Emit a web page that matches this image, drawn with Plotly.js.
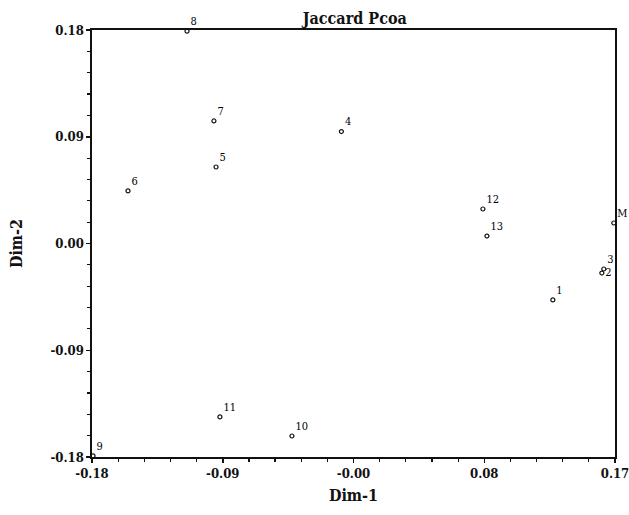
<!DOCTYPE html>
<html>
<head>
<meta charset="utf-8">
<script src="https://cdn.plot.ly/plotly-3.0.1.min.js"></script>
<style>html,body{margin:0;padding:0;background:#fff;}#chart{width:629px;height:515px;}</style>
</head>
<body>
<div id="chart"></div>
<script>
const labels = ['8','7','5','6','4','12','13','M','3','2','1','11','10','9'];
const dim1 = [-0.1164,-0.0984,-0.0970,-0.1559,-0.0131,0.0816,0.0843,0.1692,0.1625,0.1612,0.1284,-0.0944,-0.0462,-0.1793];
const dim2 = [0.179,0.1033,0.0645,0.0443,0.0944,0.0291,0.0063,0.0173,-0.0215,-0.0249,-0.0476,-0.1462,-0.1623,-0.1791];
const labelPos = ['top right','top right','top right','top right','top right','top right','top right','top right','top right','middle right','top right','top right','top right','top right'];

const xTickVals = [-0.18,-0.0925,-0.005,0.0825,0.17];
const xTickText = ['-0.18','-0.09','-0.00','0.08','0.17'];
const yTickVals = [-0.18,-0.09,0.0,0.09,0.18];
const yTickText = ['-0.18','-0.09','0.00','0.09','0.18'];

function minorOf(vals, n){
  const out=[];
  for(let i=0;i<vals.length-1;i++){
    const step=(vals[i+1]-vals[i])/n;
    for(let k=1;k<n;k++) out.push(vals[i]+k*step);
  }
  return out;
}

const serif = 'DejaVu Serif Condensed, DejaVu Serif, serif';

const trace = {
  x: dim1, y: dim2, text: labels,
  type: 'scatter', mode: 'markers+text',
  textposition: labelPos,
  textfont: {family: serif, size: 11, color: '#000'},
  marker: {symbol: 'circle-open', size: 4, color: '#111', line: {width: 1.2, color: '#111'}},
  cliponaxis: false,
  hoverinfo: 'none'
};

const axisCommon = {
  showgrid: false, zeroline: false,
  showline: true, linecolor: '#111', linewidth: 1.6, mirror: true,
  layer: 'below traces',
  ticks: 'outside', ticklen: 4, tickwidth: 1.5, tickcolor: '#111',
  ticklabeloverflow: 'allow',
  tickfont: {family: serif, size: 13, color: '#111', weight: 'bold'},
  tickmode: 'array'
};

const layout = {
  width: 629, height: 515,
  margin: {l: 92, r: 14, t: 30, b: 58},
  paper_bgcolor: '#fff', plot_bgcolor: '#fff',
  showlegend: false,
  title: {text: '<b>Jaccard Pcoa</b>', font: {family: serif, size: 16, color: '#111'}, x: 0.564, xanchor: 'center', y: 0.965, yanchor: 'middle'},
  xaxis: Object.assign({}, axisCommon, {
    range: [-0.18, 0.17],
    tickvals: xTickVals, ticktext: xTickText,
    minor: {tickmode: 'array', tickvals: minorOf(xTickVals,5), ticks: 'outside', ticklen: 3, tickwidth: 1.2, tickcolor: '#111'},
    title: {text: '<b>Dim-1</b>', font: {family: serif, size: 16, color: '#111'}, standoff: 9}
  }),
  yaxis: Object.assign({}, axisCommon, {
    range: [-0.18, 0.18],
    tickvals: yTickVals, ticktext: yTickText,
    minor: {tickmode: 'array', tickvals: minorOf(yTickVals,5), ticks: 'outside', ticklen: 3, tickwidth: 1.2, tickcolor: '#111'},
    title: {text: '<b>Dim-2</b>', font: {family: serif, size: 16, color: '#111'}, standoff: 24}
  })
};

Plotly.newPlot('chart', [trace], layout, {displayModeBar: false, staticPlot: true});
</script>
</body>
</html>
